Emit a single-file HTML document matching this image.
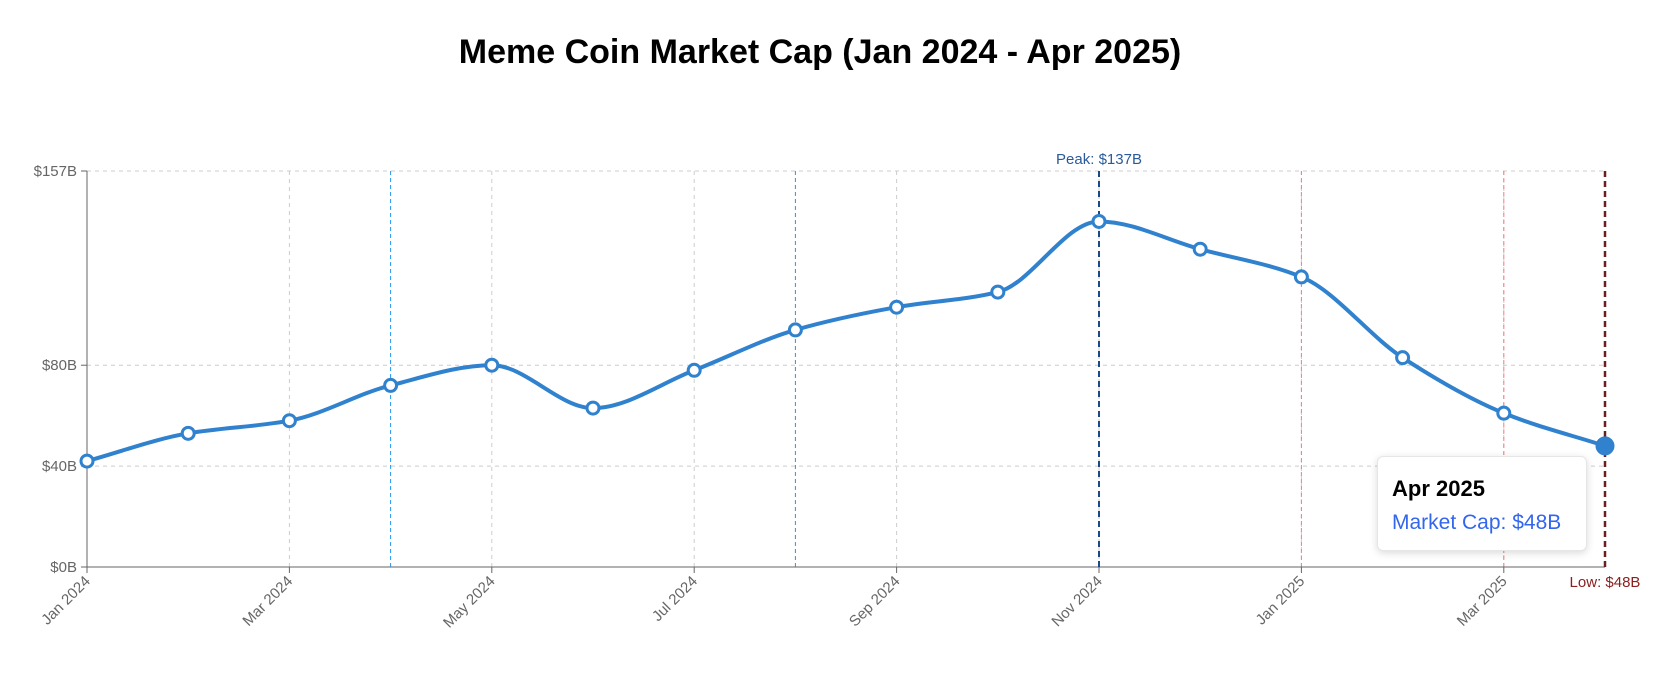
<!DOCTYPE html>
<html><head><meta charset="utf-8"><style>
body{margin:0;background:#fff;font-family:"Liberation Sans",sans-serif}
#wrap{position:relative;width:1662px;height:677px}
h1{position:absolute;top:33px;left:0;width:1640px;text-align:center;margin:0;font-size:34px;font-weight:bold}
#tip{position:absolute;left:1377px;top:456px;width:210px;height:95px;background:#fff;border:1px solid #e6e6e6;border-radius:6px;box-shadow:0 2px 8px rgba(0,0,0,.15);box-sizing:border-box;padding:19px 0 0 14px}
</style></head><body>
<div id="wrap">
<h1>Meme Coin Market Cap (Jan 2024 - Apr 2025)</h1>
<svg id="svg" width="1662" height="677" style="position:absolute;left:0;top:0"></svg>
<div id="tip"><div style="font-weight:bold;font-size:22px">Apr 2025</div><div style="color:#3366ee;font-size:21px;margin-top:9px">Market Cap: $48B</div></div>
</div>
<script>
const months=["Jan 2024","Feb 2024","Mar 2024","Apr 2024","May 2024","Jun 2024","Jul 2024","Aug 2024","Sep 2024","Oct 2024","Nov 2024","Dec 2024","Jan 2025","Feb 2025","Mar 2025","Apr 2025"];
const values=[42,53,58,72,80,63,78,94,103,109,137,126,115,83,61,48];
const yTicks=[0,40,80,157];
const blueRefs=["Apr 2024","Aug 2024"];
const redRefs=["Jan 2025","Mar 2025"];
const NS="http://www.w3.org/2000/svg",svg=document.getElementById('svg');
const x0=87,x1=1605,y0=567,y1=171,ymax=157;
const X=i=>x0+(x1-x0)*i/(months.length-1);
const Y=v=>y0-(y0-y1)*v/ymax;
function mk(t,a,p){const e=document.createElementNS(NS,t);for(const k in a)e.setAttribute(k,a[k]);(p||svg).appendChild(e);return e;}
yTicks.forEach(v=>{
 if(v>0){const l=mk('line',{x1:x0,x2:x1,y1:Y(v),y2:Y(v),stroke:'#ccc','stroke-dasharray':'4 4'});
 
 }
 mk('line',{x1:x0-6,x2:x0,y1:Y(v),y2:Y(v),stroke:'#666'});
 const t=mk('text',{x:x0-10,y:Y(v)+5,'text-anchor':'end','font-size':15,fill:'#666'});t.textContent='$'+v+'B';
 
 
});
months.forEach((m,i)=>{
 if(i%2===0&&i>0){const l=mk('line',{x1:X(i),x2:X(i),y1:y1,y2:y0,stroke:'#ccc','stroke-dasharray':'4 4'});
 
 }
 if(i%2===0){
 mk('line',{x1:X(i),x2:X(i),y1:y0,y2:y0+6,stroke:'#666'});
 const t=mk('text',{x:X(i)+4,y:y0+15,'text-anchor':'end','font-size':15,fill:'#666',transform:`rotate(-45 ${X(i)+4} ${y0+15})`});t.textContent=m;
 
 }
});
blueRefs.forEach(m=>{const i=months.indexOf(m);const l=mk('line',{x1:X(i),x2:X(i),y1:y1,y2:y0,stroke:'#2196f3','stroke-dasharray':'4 3'});
 
 });
redRefs.forEach(m=>{const i=months.indexOf(m);const l=mk('line',{x1:X(i),x2:X(i),y1:y1,y2:y0,stroke:'#f77','stroke-dasharray':'4 3'});
 
 });
mk('line',{x1:x0,x2:x0,y1:y1,y2:y0,stroke:'#666'});
mk('line',{x1:x0,x2:x1,y1:y0,y2:y0,stroke:'#666'});
const pk=values.indexOf(Math.max(...values)),lo=values.length-1;
const pl=mk('line',{x1:X(pk),x2:X(pk),y1:y1,y2:y0,stroke:'#1a4a8a','stroke-width':2,'stroke-dasharray':'6 4'});


const pt=mk('text',{x:X(pk),y:y1-7,'text-anchor':'middle','font-size':15,fill:'#2a5a9a'});pt.textContent='Peak: $'+values[pk]+'B';


const ll=mk('line',{x1:X(lo),x2:X(lo),y1:y1,y2:y0,stroke:'#6b1f1f','stroke-width':2.5,'stroke-dasharray':'6 4'});


const lt=mk('text',{x:X(lo),y:y0+20,'text-anchor':'middle','font-size':15,fill:'#8b2020'});lt.textContent='Low: $'+values[lo]+'B';


const px=values.map((v,i)=>X(i)),py=values.map(Y),n=values.length;
const d=[],m=[];for(let i=0;i<n-1;i++)d.push((py[i+1]-py[i])/(px[i+1]-px[i]));
for(let i=0;i<n;i++){if(i===0)m.push(d[0]);else if(i===n-1)m.push(d[n-2]);else m.push(d[i-1]*d[i]<=0?0:(2*d[i-1]*d[i])/(d[i-1]+d[i]));}
let p=`M${px[0]},${py[0]}`;for(let i=0;i<n-1;i++){const h=(px[i+1]-px[i])/3;p+=`C${px[i]+h},${py[i]+m[i]*h} ${px[i+1]-h},${py[i+1]-m[i+1]*h} ${px[i+1]},${py[i+1]}`;}
const line=mk('path',{d:p,fill:'none',stroke:'#3182ce','stroke-width':4});


values.forEach((v,i)=>{const last=i===n-1;const c=mk('circle',{cx:X(i),cy:Y(v),r:last?8.5:6,fill:last?'#3182ce':'#fff',stroke:'#3182ce','stroke-width':last?2:3});
 
 });
</script>
</body></html>
